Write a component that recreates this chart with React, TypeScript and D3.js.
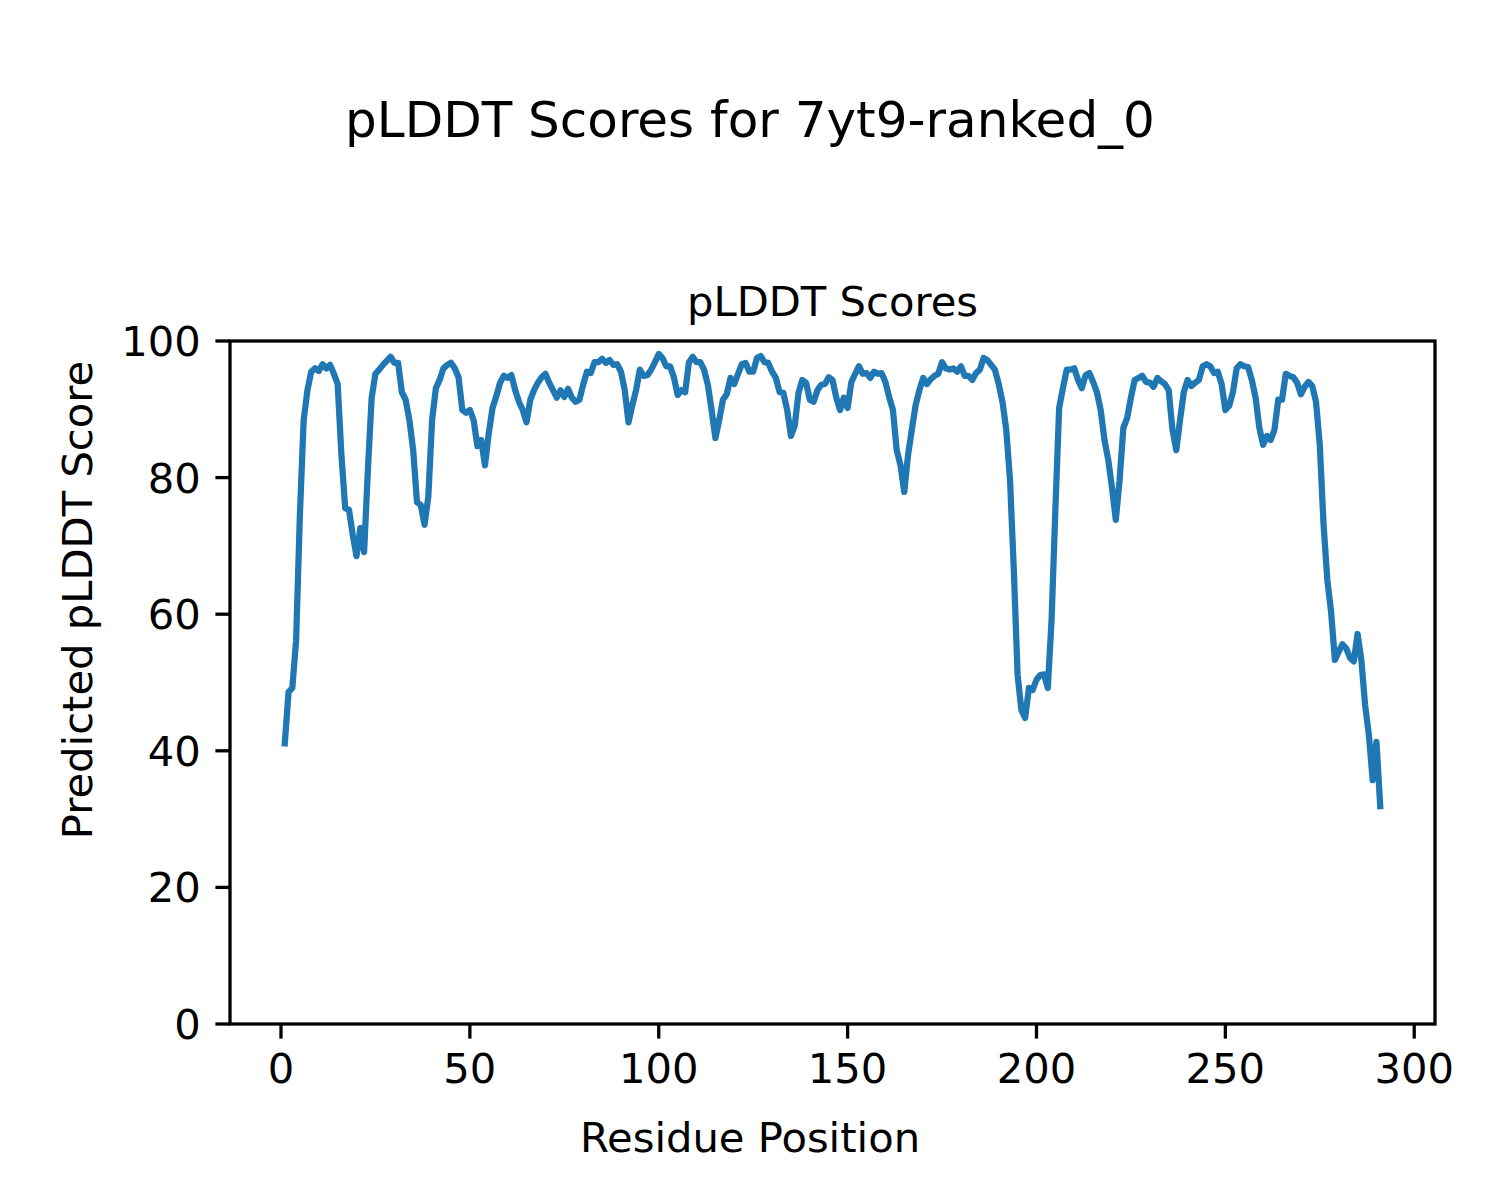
import React from "react";
import * as d3 from "d3";

const scores: number[] = [
  41.1, 48.6, 49.2, 56.2, 74.5, 88.4, 92.8, 95.5, 96.0, 95.6,
  96.6, 96.0, 96.5, 95.2, 93.7, 83.3, 75.5, 75.3, 71.6, 68.5,
  72.6, 69.1, 81.1, 91.7, 95.2, 95.8, 96.5, 97.1, 97.7, 96.8,
  96.8, 92.5, 91.4, 88.4, 84.0, 76.4, 76.0, 73.1, 77.2, 88.4,
  93.1, 94.3, 96.0, 96.5, 96.8, 96.0, 94.7, 89.9, 89.5, 89.9,
  88.4, 84.6, 85.5, 81.8, 86.5, 90.2, 91.9, 93.9, 94.9, 94.6,
  95.0, 92.8, 91.1, 89.9, 88.1, 91.4, 92.8, 93.9, 94.7, 95.2,
  93.9, 92.8, 91.7, 92.8, 91.8, 93.0, 91.7, 91.1, 91.4, 93.6,
  95.5, 95.3, 96.9, 96.9, 97.4, 96.8, 97.2, 96.5, 96.6, 95.5,
  92.8, 88.1, 90.6, 92.8, 95.8, 94.9, 95.0, 95.8, 96.9, 98.1,
  97.5, 96.3, 96.3, 94.7, 92.1, 92.8, 92.5, 96.9, 97.7, 96.9,
  96.9, 95.8, 93.6, 89.9, 85.8, 88.4, 91.4, 92.2, 94.6, 93.7,
  95.2, 96.6, 96.8, 95.5, 95.5, 97.5, 97.8, 96.9, 96.8, 95.5,
  94.6, 92.5, 92.4, 89.9, 86.1, 87.6, 92.4, 94.3, 93.9, 91.4,
  91.1, 92.8, 93.6, 93.7, 94.7, 94.3, 91.7, 89.9, 91.7, 90.2,
  94.0, 95.2, 96.3, 95.2, 95.3, 94.6, 95.5, 95.2, 95.3, 94.0,
  91.8, 89.9, 84.0, 81.8, 77.9, 83.3, 87.0, 90.6, 92.8, 94.6,
  93.7, 94.4, 94.9, 95.2, 96.9, 96.0, 95.8, 96.0, 95.5, 96.3,
  94.9, 94.9, 94.3, 95.3, 95.8, 97.5, 97.2, 96.5, 95.8, 93.7,
  91.1, 87.0, 79.6, 66.5, 51.1, 46.0, 44.8, 49.2, 48.9, 50.4,
  51.1, 51.2, 49.2, 59.2, 75.3, 90.2, 93.1, 95.8, 95.8, 96.0,
  94.3, 93.1, 95.0, 95.3, 94.0, 92.5, 89.9, 85.5, 82.6, 78.5,
  73.8, 79.6, 87.3, 88.7, 91.7, 94.3, 94.6, 94.9, 94.0, 93.9,
  93.3, 94.6, 94.1, 93.7, 92.8, 87.0, 84.0, 88.4, 92.5, 94.3,
  93.4, 93.9, 94.3, 96.3, 96.6, 96.3, 95.3, 95.5, 93.7, 89.9,
  90.5, 92.5, 96.0, 96.6, 96.3, 96.2, 94.3, 91.7, 87.3, 84.8,
  86.1, 85.5, 87.0, 91.4, 91.4, 95.2, 94.9, 94.7, 93.9, 92.2,
  93.3, 94.0, 93.4, 91.1, 84.8, 73.1, 65.0, 60.3, 53.3, 54.5,
  55.6, 55.0, 53.6, 53.1, 57.1, 53.3, 46.7, 42.3, 35.7, 41.3,
  31.9,
];
const residues: number[] = scores.map((_, i) => i + 1);
const xTicks: number[] = [0, 50, 100, 150, 200, 250, 300];
const yTicks: number[] = [0, 20, 40, 60, 80, 100];

const suptitle = "pLDDT Scores for 7yt9-ranked_0";
const axTitle = "pLDDT Scores";
const xLabel = "Residue Position";
const yLabel = "Predicted pLDDT Score";

const W = 1500;
const H = 1200;
const left = 230;
const right = 1435;
const top = 341;
const bottom = 1024;
const font = "'DejaVu Sans', sans-serif";

export default function App() {
  const xMin = d3.min(residues) as number;
  const xMax = d3.max(residues) as number;
  const pad = (xMax - xMin) * 0.05;
  const x = d3.scaleLinear().domain([xMin - pad, xMax + pad]).range([left, right]);
  const y = d3.scaleLinear().domain([0, 100]).range([bottom, top]);
  const line = d3
    .line<number>()
    .x((_, i) => x(residues[i]))
    .y((d) => y(d));
  const tickLen = 14.6;
  const spine = 3.3;
  return (
    <svg
      width={W}
      height={H}
      style={{ position: "absolute", left: 0, top: 0, background: "#fff" }}
      fontFamily={font}
    >
      <rect x={0} y={0} width={W} height={H} fill="#fff" />
      <text x={750} y={137} fontSize={50} textAnchor="middle" fill="#000">
        {suptitle}
      </text>
      <text x={(left + right) / 2} y={316} fontSize={41.7} textAnchor="middle" fill="#000">
        {axTitle}
      </text>
      <path
        d={line(scores) || ""}
        fill="none"
        stroke="#1f77b4"
        strokeWidth={6.25}
        strokeLinejoin="round"
        strokeLinecap="square"
      />
      <rect
        x={left}
        y={top}
        width={right - left}
        height={bottom - top}
        fill="none"
        stroke="#000"
        strokeWidth={spine}
        strokeLinecap="square"
      />
      {xTicks.map((t) => (
        <g key={"x" + t}>
          <line x1={x(t)} x2={x(t)} y1={bottom} y2={bottom + tickLen} stroke="#000" strokeWidth={spine} />
          <text x={x(t)} y={1083} fontSize={41.7} textAnchor="middle" fill="#000">
            {t}
          </text>
        </g>
      ))}
      {yTicks.map((t) => (
        <g key={"y" + t}>
          <line x1={left - tickLen} x2={left} y1={y(t)} y2={y(t)} stroke="#000" strokeWidth={spine} />
          <text x={left - 2 * tickLen} y={y(t) + 15} fontSize={41.7} textAnchor="end" fill="#000">
            {t}
          </text>
        </g>
      ))}
      <text x={750} y={1152} fontSize={41.7} textAnchor="middle" fill="#000">
        {xLabel}
      </text>
      <text
        transform={`translate(92,600) rotate(-90)`}
        fontSize={41.7}
        textAnchor="middle"
        fill="#000"
      >
        {yLabel}
      </text>
    </svg>
  );
}
